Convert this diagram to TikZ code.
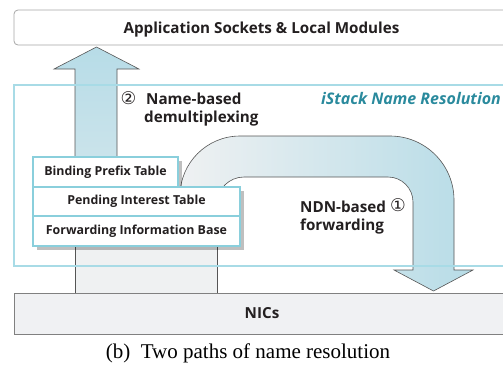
\documentclass[tikz,border=0pt]{standalone}
\usepackage{fontspec}
\setmainfont{Liberation Serif}
\newfontfamily\lblfont{Open Sans}
\newfontfamily\symfont{DejaVu Sans}
\usetikzlibrary{shadows}
\definecolor{arrowblue}{HTML}{B7DCE7}
\definecolor{arrowgray}{HTML}{EFF1F2}
\definecolor{cyanline}{HTML}{A8DBE6}
\definecolor{tableborder}{HTML}{8ACFDC}
\definecolor{txtcol}{HTML}{231F20}
\definecolor{istackcol}{HTML}{2A8A9D}
\definecolor{nicsfill}{HTML}{F0F1F3}
\definecolor{boxline}{HTML}{808080}
\definecolor{arrowline}{HTML}{555555}
\tikzset{
  lbl/.style={font=\lblfont\bfseries\fontsize{15.2}{18}\selectfont, text=txtcol, inner sep=0pt},
  circnum/.style={font=\symfont\fontsize{17.5}{18}\selectfont, text=txtcol, inner sep=0pt},
  layerbox/.style={draw=boxline, line width=0.8pt, inner sep=0pt, font=\lblfont\bfseries\fontsize{15.2}{18}\selectfont, text=txtcol},
  tablebox/.style={draw=tableborder, line width=2.5pt, fill=white, inner sep=0pt,
    font=\lblfont\bfseries\fontsize{12.4}{14}\selectfont, text=txtcol,
    drop shadow={shadow xshift=3.5pt, shadow yshift=-3.5pt, fill=black, opacity=0.25}},
  arrowshape/.style={draw=arrowline, line width=0.6pt},
}
\begin{document}
\begin{tikzpicture}[x=1pt,y=-1pt]
\useasboundingbox (0,0) rectangle (503,373);
\clip (0,0) rectangle (503,373);
% NICs layer
\node[layerbox, fill=nicsfill, minimum width=496, minimum height=41] (nics) at (262,313.5) {NICs};
% gray base of the two paths
\fill[arrowgray] (75,235) rectangle (217,293);
\coordinate (baseLT) at (75,235);
\coordinate (baseLB) at (75,293);
\coordinate (baseRT) at (217,235);
\coordinate (baseRB) at (217,293);
\draw[arrowshape] (baseLT) -- (baseLB);
\draw[arrowshape] (baseRT) -- (baseRB);
% up arrow (demultiplexing)
\draw[arrowshape, top color=arrowblue, bottom color=arrowgray!60!arrowblue]
  (75,240) -- (75,69) -- (54,69) -- (96.5,47) -- (139,69) -- (117,69) -- (117,240) -- cycle;
% U arrow (forwarding)
\draw[arrowshape, left color=arrowgray, right color=arrowblue]
  (180,240) -- (180,196) arc[start angle=180, end angle=270, radius=60]
  -- (390,136) arc[start angle=270, end angle=360, radius=64]
  -- (454,270) -- (473,270) -- (433.5,291) -- (394,270) -- (413,270)
  -- (413,202) arc[start angle=0, end angle=-90, radius=25]
  -- (244,177) arc[start angle=270, end angle=180, radius=27]
  -- (217,240) -- cycle;
% iStack region
\draw[cyanline, line width=1.2pt] (14,85) rectangle (515,266);
\node[font=\lblfont\bfseries\itshape\fontsize{16}{18}\selectfont, text=istackcol, inner sep=0pt, anchor=base east] (istack) at (501,104) {iStack Name Resolution};
% tables
\node[tablebox, minimum width=145, minimum height=30] (bpt) at (105.5,172) {Binding Prefix Table};
\node[tablebox, minimum width=207, minimum height=29] (pit) at (136.5,201.5) {Pending Interest Table};
\node[tablebox, minimum width=207, minimum height=30] (fib) at (136.5,231) {Forwarding Information Base};
% labels
\node[circnum] (c2) at (128.5,98.5) {②};
\node[lbl, anchor=base west] (demuxA) at (146,104.5) {Name-based};
\node[lbl, anchor=base west] (demuxB) at (144,122.5) {demultiplexing};
\node[lbl, anchor=base west] (fwdA) at (300,212) {NDN-based};
\node[lbl, anchor=base west] (fwdB) at (300,230) {forwarding};
\node[circnum] (c1) at (398,205.5) {①};
% top layer
\node[layerbox, draw=boxline!70, fill=white, rounded corners=4pt, minimum width=494, minimum height=35] (app) at (261,27.5) {};
\node[lbl, anchor=base] (apptext) at (261.5,33.5) {Application Sockets \& Local Modules};
% caption
\node[font=\fontsize{21}{23}\selectfont, inner sep=0pt, anchor=base] (cap) at (248,358.5) {(b)\hspace{0.5em}Two paths of name resolution};
\end{tikzpicture}
\end{document}
